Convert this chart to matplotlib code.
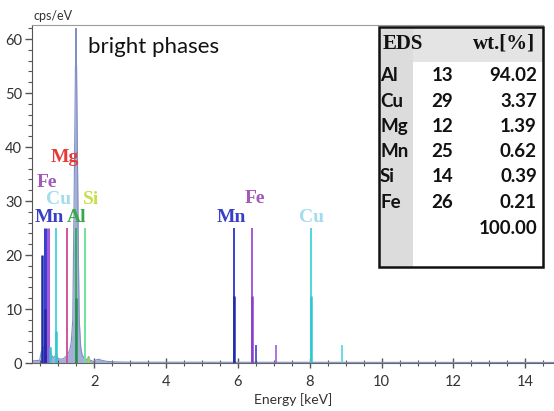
import matplotlib
matplotlib.use("Agg")
import matplotlib.pyplot as plt
from matplotlib.patches import Rectangle
from matplotlib.ticker import MultipleLocator

# spectrum outline (keV, cps/eV)
spec_e = [0.26, 0.48, 0.52, 0.56, 0.60, 0.64, 0.68, 0.72, 0.76, 0.80, 0.86,
          0.90, 0.93, 0.96, 1.00, 1.08, 1.16, 1.22, 1.26, 1.32, 1.36, 1.40,
          1.42, 1.44, 1.46, 1.475, 1.485, 1.49, 1.495, 1.505, 1.52, 1.54,
          1.56, 1.58, 1.62, 1.66, 1.72, 1.80, 1.84, 1.88, 1.98, 2.06, 2.12,
          2.20, 2.35, 2.60, 3.00, 14.85]
spec_c = [0.4, 0.5, 2.0, 2.5, 3.0, 3.0, 2.8, 2.0, 3.0, 1.5, 1.0,
          1.2, 1.6, 1.2, 0.8, 0.7, 0.9, 1.3, 1.6, 2.5, 4.0, 8.0,
          20, 32, 45, 55, 56.5, 62, 56.5, 55, 45, 32,
          18, 8.0, 3.0, 1.5, 0.9, 0.6, 1.2, 0.5, 0.3, 0.6, 0.7,
          0.5, 0.3, 0.2, 0.15, 0.1]

# element marker lines
line_elem = ["Mn", "Fe", "Cu", "Mg", "Al", "Si", "Mn", "Fe", "Cu"]
line_kev = [0.64, 0.70, 0.93, 1.25, 1.49, 1.74, 5.90, 6.40, 8.04]
line_h = [25, 25, 25, 25, 25, 25, 25, 25, 25]

inner_elem = ["Mn", "Mn", "Mn", "Fe", "Cu", "Al", "Cu", "Cu", "Si"]
inner_kev = [0.55, 0.64, 5.90, 6.40, 8.04, 1.49, 0.93, 0.78, 1.83]
inner_h = [20, 10, 12.5, 12.5, 12.5, 12, 6, 3, 1.2]

kb_elem = ["Mn", "Fe", "Cu"]
kb_kev = [6.49, 7.06, 8.90]
kb_h = [3.3, 3.3, 3.3]

# peak labels (text, keV, cps/eV)
lab_txt = ["Mg", "Fe", "Cu", "Si", "Mn", "Al", "Mn", "Fe", "Cu"]
lab_x = [1.18, 0.68, 1.00, 1.91, 0.75, 1.52, 5.81, 6.46, 8.05]
lab_y = [38.0, 33.5, 30.2, 30.2, 27.0, 27.0, 27.0, 30.4, 27.0]

line_col = {"Mn": "#3b3fd0", "Fe": "#a45ad8", "Cu": "#4fd8dc",
            "Mg": "#d0559a", "Al": "#2fae5a", "Si": "#6fe39a"}
dark_col = {"Mn": "#1f2ba8", "Fe": "#8a3fc8", "Cu": "#2fc8d0",
            "Mg": "#c0407f", "Al": "#23904a", "Si": "#9ad85a"}
lab_col = {"Mg": "#e63a3a", "Fe": "#a259b8", "Cu": "#a3dcec",
           "Si": "#c6e04c", "Mn": "#3a3fc8", "Al": "#37a84a"}

# EDS table
tab_elem = ["Al", "Cu", "Mg", "Mn", "Si", "Fe"]
tab_z = ["13", "29", "12", "25", "14", "26"]
tab_wt = ["94.02", "3.37", "1.39", "0.62", "0.39", "0.21"]
tab_total = "100.00"

W, H = 554, 411
fig = plt.figure(figsize=(W / 100, H / 100), dpi=100)
ax = fig.add_axes([32 / W, 48 / H, (W - 32) / W, 338 / H])

ax.fill_between(spec_e, spec_c, color="#a3afd6", lw=0)
ax.plot(spec_e, spec_c, color="#8090c4", lw=0.8)

for el, e, h in zip(line_elem, line_kev, line_h):
    w = 2.2 if e < 0.8 else 1.4
    ax.vlines(e, 0, h, color=line_col[el], lw=w)
for el, e, h in zip(inner_elem, inner_kev, inner_h):
    ax.vlines(e, 0, h, color=dark_col[el], lw=1.8)
for el, e, h in zip(kb_elem, kb_kev, kb_h):
    ax.vlines(e, 0, h, color=line_col[el], lw=1.2)

for t, x, y in zip(lab_txt, lab_x, lab_y):
    ax.text(x, y, t, color=lab_col[t], ha="center", va="center",
            fontsize=14, fontweight="bold", family="Liberation Serif")

ax.set_xlim(0.265, 14.8)
ax.set_ylim(0, 62.6)
ax.xaxis.set_major_locator(MultipleLocator(2))
ax.xaxis.set_minor_locator(MultipleLocator(0.5))
ax.yaxis.set_major_locator(MultipleLocator(10))
ax.yaxis.set_minor_locator(MultipleLocator(2))
ax.tick_params(axis="x", which="major", direction="inout", length=7,
               width=1, color="#555555", labelsize=10.5, labelcolor="#333333",
               pad=5)
ax.tick_params(axis="x", which="minor", direction="inout", length=4,
               width=0.8, color="#555555")
ax.tick_params(axis="y", which="major", direction="out", length=5,
               width=1, color="#555555", labelsize=10.5, labelcolor="#333333",
               pad=2)
ax.tick_params(axis="y", which="minor", direction="out", length=3,
               width=0.8, color="#555555")
for lab in ax.get_xticklabels() + ax.get_yticklabels():
    lab.set_family("Lato")
ax.spines["right"].set_visible(False)
ax.spines["top"].set_color("#9a9a9a")
ax.spines["top"].set_bounds(0.265, 14.5)
ax.spines["left"].set_color("#555555")
ax.spines["bottom"].set_color("#666666")

ax.set_xlabel("Energy [keV]", family="Lato", fontsize=10, color="#333333",
              labelpad=3)
fig.text(33 / W, 1 - 16 / H, "cps/eV", family="Lato", fontsize=9,
         color="#333333", ha="left", va="center")
fig.text(88 / W, 1 - 47 / H, "bright phases", family="Lato", fontsize=16,
         color="#111111", ha="left", va="center")

# table drawn in its own axes, in pixel units
tx0, ty0, tx1, ty1 = 379, 27, 543, 267
tab = fig.add_axes([tx0 / W, 1 - ty1 / H, (tx1 - tx0) / W, (ty1 - ty0) / H])
tab.set_xlim(tx0, tx1)
tab.set_ylim(ty1, ty0)
tab.axis("off")
tab.add_patch(Rectangle((tx0, ty0), tx1 - tx0, ty1 - ty0, facecolor="white",
                        edgecolor="none"))
tab.add_patch(Rectangle((tx0, ty0), tx1 - tx0, 35, facecolor="#e4e4e4",
                        edgecolor="none"))
tab.add_patch(Rectangle((tx0, ty0), 34, ty1 - ty0, facecolor="#dcdcdc",
                        edgecolor="none"))
tab.add_patch(Rectangle((tx0, ty0), tx1 - tx0, ty1 - ty0, facecolor="none",
                        edgecolor="#111111", lw=1.8, clip_on=False))
tab.text(383, 44, "EDS", family="Liberation Serif", fontweight="bold",
         fontsize=15, ha="left", va="center", color="#111111")
tab.text(535, 44, "wt.[%]", family="Liberation Serif", fontweight="bold",
         fontsize=15, ha="right", va="center", color="#111111")
row_y = [76, 102, 127, 152, 177, 203]
for y, el, z, wt in zip(row_y, tab_elem, tab_z, tab_wt):
    tab.text(380, y, el, family="Lato", fontweight="bold", fontsize=13.5,
             ha="left", va="center", color="#111111")
    tab.text(453, y, z, family="Lato", fontweight="bold", fontsize=13.5,
             ha="right", va="center", color="#111111")
    tab.text(537, y, wt, family="Lato", fontweight="bold", fontsize=13.5,
             ha="right", va="center", color="#111111")
tab.text(537, 229, tab_total, family="Lato", fontweight="bold", fontsize=13.5,
         ha="right", va="center", color="#111111")

fig.savefig("out.png", dpi=100)
